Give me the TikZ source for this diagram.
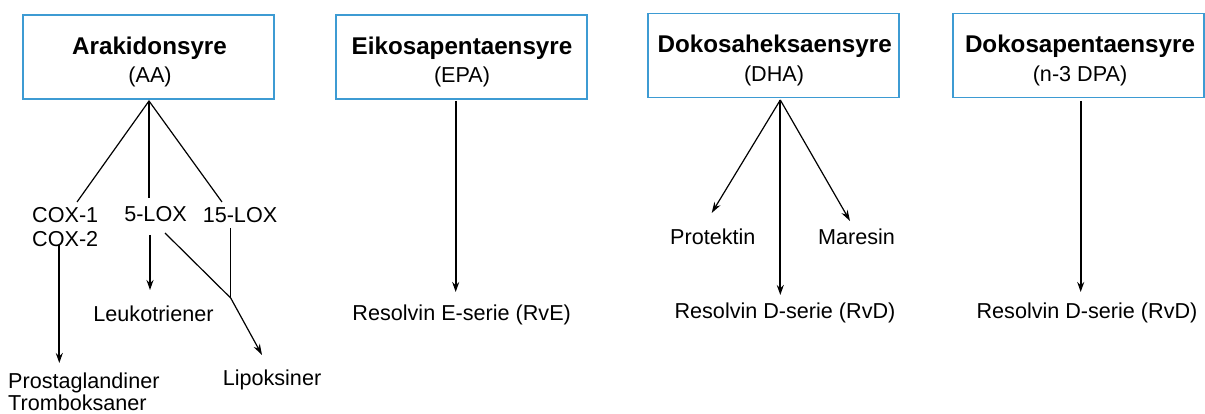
\documentclass[tikz,border=0pt]{standalone}
\usepackage{fontspec}
\setmainfont{Liberation Sans}
\usetikzlibrary{arrows.meta}
\definecolor{boxblue}{HTML}{3D9BD3}
\begin{document}
\begin{tikzpicture}[x=1pt,y=-1pt,
  acid/.style={draw=boxblue,line width=1.3pt,minimum width=251pt,minimum height=84pt,inner sep=0pt},
  ttl/.style={anchor=base,inner sep=0pt,font=\fontsize{24.2}{28}\selectfont\bfseries},
  lbl/.style={anchor=base,inner sep=0pt,font=\fontsize{21.6}{24}\selectfont},
  lblw/.style={lbl,anchor=base west},
  arr/.style={line width=2pt,-{Stealth[length=10pt,width=7pt]}},
  tarr/.style={line width=1.2pt,-{Stealth[length=11pt,width=7pt]}},
  branch/.style={line width=1.2pt}]
\useasboundingbox (0,0) rectangle (1205,414);

% boxes
\node[acid] (aa)  at (148.5,57) {};
\node[acid] (epa) at (461.5,57) {};
\node[acid] (dha) at (773.5,55.8) {};
\node[acid] (dpa) at (1078.5,55.6) {};

\node[ttl] (aat)  at (149.5,55) {Arakidonsyre};
\node[lbl] (aas)  at (150,83) {(AA)};
\node[ttl] (epat) at (462,55) {Eikosapentaensyre};
\node[lbl] (epas) at (462,83) {(EPA)};
\node[ttl] (dhat) at (774.7,53) {Dokosaheksaensyre};
\node[lbl] (dhas) at (774,81.5) {(DHA)};
\node[ttl] (dpat) at (1080,53) {Dokosapentaensyre};
\node[lbl] (dpas) at (1080,81.5) {(n-3 DPA)};

% AA products
\node[lblw] (cox1) at (32,223) {COX-1};
\node[lblw] (cox2) at (32,247) {COX-2};
\node[lbl] (lox5)  at (155.5,222) {5-LOX};
\node[lbl] (lox15) at (240,223) {15-LOX};
\node[lbl] (leuk)  at (153.5,321) {Leukotriener};
\node[lblw] (prost) at (8,388.5) {Prostaglandiner};
\node[lblw] (tromb) at (8,410.5) {Tromboksaner};
\node[lbl] (lipo)  at (272,385) {Lipoksiner};

% other products
\node[lbl] (rve)  at (461.7,320) {Resolvin E-serie (RvE)};
\node[lbl] (prot) at (712.8,245) {Protektin};
\node[lbl] (mar)  at (856.5,245) {Maresin};
\node[lbl] (rvd)  at (785,318) {Resolvin D-serie (RvD)};
\node[lbl] (rvd2) at (1087,318) {Resolvin D-serie (RvD)};

% coordinates
\coordinate (aaA) at (149,101);
\coordinate (coxT) at (77,202);
\coordinate (lox5T) at (149,198);
\coordinate (lox15T) at (222,202);
\coordinate (coxS) at (59.3,245);
\coordinate (prostT) at (59.3,363);
\coordinate (lox5S) at (150,235);
\coordinate (leukT) at (150,290);
\coordinate (lox5R) at (165,233);
\coordinate (lox15S) at (230.7,228);
\coordinate (join) at (230.7,298);
\coordinate (lipoT) at (262,355);
\coordinate (epaA) at (455.7,101);
\coordinate (rveT) at (455.7,292);
\coordinate (dhaA) at (780.3,100);
\coordinate (protT) at (711.7,213);
\coordinate (marT) at (850,221);
\coordinate (rvdT) at (780.3,295);
\coordinate (dpaA) at (1080.7,101);
\coordinate (rvd2T) at (1080.7,292);

% connectors
\draw[branch] (coxT) -- (aaA) -- (lox15T);
\draw[branch] (aaA) -- (lox5T);
\draw[arr] (coxS) -- (prostT);
\draw[arr] (lox5S) -- (leukT);
\draw[tarr] (lox5R) -- (join) -- (lipoT);
\draw[branch] (lox15S) -- (join);
\draw[arr] (epaA) -- (rveT);
\draw[tarr] (dhaA) -- (protT);
\draw[tarr] (dhaA) -- (marT);
\draw[arr] (dhaA) -- (rvdT);
\draw[arr] (dpaA) -- (rvd2T);
\end{tikzpicture}
\end{document}
